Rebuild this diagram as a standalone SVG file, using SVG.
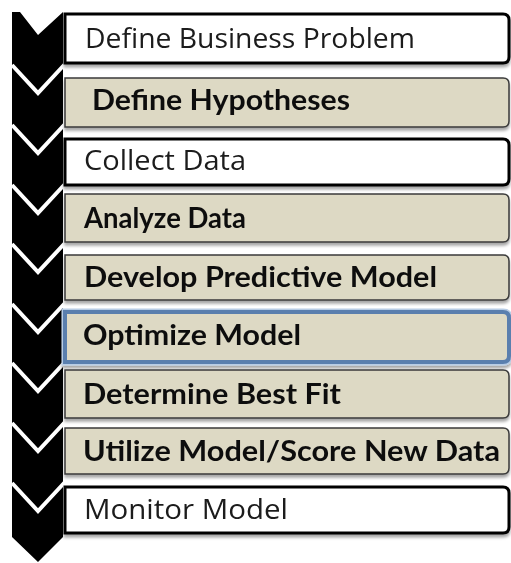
<svg xmlns="http://www.w3.org/2000/svg" width="511" height="563" viewBox="0 0 511 563">
<defs>
<filter id="sh" x="-5%" y="-20%" width="110%" height="150%">
<feDropShadow dx="0" dy="3" stdDeviation="1.8" flood-color="#000" flood-opacity="0.35"/>
</filter>
<style>
.white{fill:#fff;stroke:#000;stroke-width:3}
.beige{fill:#ddd9c4;stroke:#3a3a3a;stroke-width:1.5}
.blue{fill:#ddd9c4;stroke:#5a7fae;stroke-width:4}
.glow{fill:none;stroke:#b8cde6;stroke-width:7}
.t{font-family:"Open Sans","Liberation Sans",sans-serif;font-size:28px;fill:#1a1a1a}
.b{font-family:Lato,"Open Sans","Liberation Sans",sans-serif;font-size:28px;font-weight:bold;fill:#111}
.v{fill:none;stroke:#fff;stroke-width:4;stroke-linejoin:miter}
</style>
</defs>
<rect width="511" height="563" fill="#fff"/>
<g id="arrow-column">
<polygon points="12,12 20,12 38,35 63,12 63,537 38,562 12,537" fill="#000"/>
</g>
<g id="connectors">
<polyline class="v" points="12,65 38,93 65,64"/>
<polyline class="v" points="12,125 38,153 65,124"/>
<polyline class="v" points="12,185 38,213 65,184"/>
<polyline class="v" points="12,244 38,272 65,243"/>
<polyline class="v" points="12,304 38,332 65,303"/>
<polyline class="v" points="12,363 38,391 65,362"/>
<polyline class="v" points="12,423 38,451 65,422"/>
<polyline class="v" points="12,483 38,511 65,482"/>
</g>
<g id="step1" filter="url(#sh)">
<path class="white" d="M65,14 H503 Q509,14 509,20 V57 Q509,63 503,63 H65 Z"/>
<text class="t" x="85" y="48" textLength="330" lengthAdjust="spacingAndGlyphs">Define Business Problem</text>
</g>
<g id="step2" filter="url(#sh)">
<path class="beige" d="M65,78 H503 Q509,78 509,84 V121 Q509,127 503,127 H65 Z"/>
<text class="b" x="92" y="110" textLength="258" lengthAdjust="spacingAndGlyphs">Define Hypotheses</text>
</g>
<g id="step3" filter="url(#sh)">
<path class="white" d="M65,139 H503 Q509,139 509,145 V179 Q509,185 503,185 H65 Z"/>
<text class="t" x="84" y="170" textLength="162" lengthAdjust="spacingAndGlyphs">Collect Data</text>
</g>
<g id="step4" filter="url(#sh)">
<path class="beige" d="M65,194 H503 Q509,194 509,200 V236 Q509,242 503,242 H65 Z"/>
<text class="b" x="84" y="228" textLength="162" lengthAdjust="spacingAndGlyphs">Analyze Data</text>
</g>
<g id="step5" filter="url(#sh)">
<path class="beige" d="M65,255 H503 Q509,255 509,261 V294 Q509,300 503,300 H65 Z"/>
<text class="b" x="84" y="287" textLength="353" lengthAdjust="spacingAndGlyphs">Develop Predictive Model</text>
</g>
<g id="step6" filter="url(#sh)">
<path class="glow" d="M65,312 H503 Q509,312 509,318 V356 Q509,362 503,362 H65 Z"/>
<path class="blue" d="M65,312 H503 Q509,312 509,318 V356 Q509,362 503,362 H65 Z"/>
<text class="b" x="83" y="345" textLength="218" lengthAdjust="spacingAndGlyphs">Optimize Model</text>
</g>
<g id="step7" filter="url(#sh)">
<path class="beige" d="M65,370 H503 Q509,370 509,376 V412 Q509,418 503,418 H65 Z"/>
<text class="b" x="83" y="404" textLength="258" lengthAdjust="spacingAndGlyphs">Determine Best Fit</text>
</g>
<g id="step8" filter="url(#sh)">
<path class="beige" d="M65,428 H503 Q509,428 509,434 V468 Q509,474 503,474 H65 Z"/>
<text class="b" x="83" y="461" textLength="417" lengthAdjust="spacingAndGlyphs">Utilize Model/Score New Data</text>
</g>
<g id="step9" filter="url(#sh)">
<path class="white" d="M65,487 H503 Q509,487 509,493 V527 Q509,533 503,533 H65 Z"/>
<text class="t" x="84" y="519" textLength="204" lengthAdjust="spacingAndGlyphs">Monitor Model</text>
</g>
</svg>
